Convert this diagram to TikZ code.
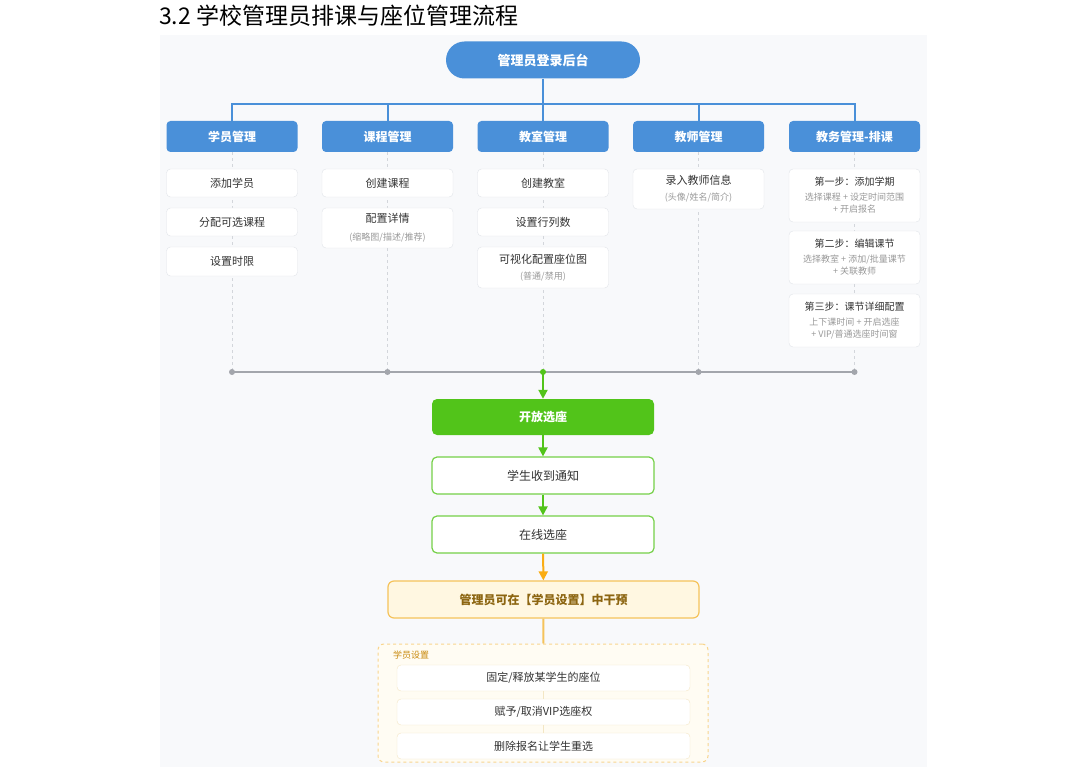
\documentclass[tikz,border=0pt]{standalone}
\usepackage{fontspec}
\setmainfont{Noto Sans CJK SC}
\usetikzlibrary{arrows.meta,backgrounds}

\definecolor{hdblue}{HTML}{4A90D9}
\definecolor{okgreen}{HTML}{52C41A}
\definecolor{warnorg}{HTML}{FAAD14}
\definecolor{warnfill}{HTML}{FFF7E1}
\definecolor{warnline}{HTML}{F5C35A}
\definecolor{warntext}{HTML}{8C6511}
\definecolor{grplabel}{HTML}{C98A0E}
\definecolor{grpline}{HTML}{F8D58E}
\definecolor{setline}{HTML}{F3E6C4}
\definecolor{panelbg}{HTML}{F8F9FB}
\definecolor{itemline}{HTML}{E1E4E9}
\definecolor{txtdark}{HTML}{333333}
\definecolor{txtsub}{HTML}{999999}
\definecolor{busgray}{HTML}{A3A6AC}
\definecolor{dashgray}{HTML}{D3D6DB}

\newcommand{\subline}[1]{{\fontsize{9}{12}\selectfont\color{txtsub}#1}}
\newcommand{\steptitle}[1]{{\fontsize{10}{13}\selectfont #1}}

\begin{document}
\begin{tikzpicture}[x=1pt,y=-1pt,
    every node/.style={font=\fontsize{11}{16}\selectfont, text=txtdark, inner sep=0pt},
    login/.style={fill=hdblue, rounded corners=18.5pt, minimum width=194pt,
      minimum height=37pt, text=white, font=\fontsize{13}{15}\selectfont\bfseries},
    cat/.style={fill=hdblue, rounded corners=4pt, minimum width=131pt,
      minimum height=31pt, text=white, font=\fontsize{12}{14}\selectfont\bfseries},
    item/.style={draw=itemline, fill=white, rounded corners=4pt,
      minimum width=131pt, minimum height=28pt, align=center},
    openbox/.style={fill=okgreen, rounded corners=5pt, minimum width=222pt,
      minimum height=36pt, text=white, font=\fontsize{12}{14}\selectfont\bfseries},
    greenbox/.style={draw=okgreen!80!white, line width=1.2pt, fill=white,
      rounded corners=5pt, minimum width=222pt, minimum height=37pt,
      font=\fontsize{12}{14}\selectfont},
    warnbox/.style={draw=warnline, line width=1.2pt, fill=warnfill,
      rounded corners=6pt, minimum width=311pt, minimum height=37pt,
      text=warntext, font=\fontsize{12}{14}\selectfont\bfseries},
    grpbox/.style={draw=grpline, dashed, line width=1pt, fill=white!60!warnfill,
      rounded corners=6pt, minimum width=330pt, minimum height=118pt},
    setitem/.style={draw=setline, fill=white, rounded corners=4pt,
      minimum width=293pt, minimum height=26pt, font=\fontsize{11}{14}\selectfont},
    busblue/.style={draw=hdblue, line width=2pt},
    busline/.style={draw=busgray, line width=2pt},
    dashline/.style={draw=dashgray, dashed, line width=0.8pt},
    flowarr/.style={draw=okgreen, line width=2pt, -{Triangle[length=9pt,width=9pt]}},
    warnarr/.style={draw=warnorg, line width=2pt, -{Triangle[length=9pt,width=9pt]}}
    ]

    \useasboundingbox (0,0) rectangle (1088,770);
    \begin{scope}[on background layer]
      \fill[panelbg] (160,35) rectangle (927,767);
    \end{scope}

    \node[anchor=west, font=\fontsize{23}{26}\selectfont, text=black] (title) at (159,16)
      {3.2 学校管理员排课与座位管理流程};

    \node[login] (login) at (543,60) {管理员登录后台};
    \coordinate (bus) at (543,104);

    \foreach \n/\x/\t in {xy/232/学员管理, kc/387.5/课程管理, js/543/教室管理,
        ls/698.5/教师管理, jw/854.5/教务管理-排课}
      \node[cat] (\n) at (\x,136.5) {\t};

    \draw[busblue] (login) -- (bus);
    \foreach \n in {xy,kc,js,ls,jw}
      \draw[busblue] (\n) |- (bus);

    \node[item] (xy1) at (232,183) {添加学员};
    \node[item] (xy2) at (232,222) {分配可选课程};
    \node[item, minimum height=29pt] (xy3) at (232,261.5) {设置时限};

    \node[item] (kc1) at (387.5,183) {创建课程};
    \node[item, minimum height=40pt] (kc2) at (387.5,228)
      {配置详情\\[2pt]\subline{(缩略图/描述/推荐)}};

    \node[item] (js1) at (543,183) {创建教室};
    \node[item] (js2) at (543,222) {设置行列数};
    \node[item, minimum height=41pt] (js3) at (543,267.5)
      {可视化配置座位图\\\subline{(普通/禁用)}};

    \node[item, minimum height=40pt] (ls1) at (698.5,189)
      {录入教师信息\\\subline{(头像/姓名/简介)}};

    \node[item, minimum height=53pt] (jw1) at (854.5,195.5)
      {\steptitle{第一步：添加学期}\\[-1pt]\subline{选择课程 + 设定时间范围}\\[-4pt]\subline{+ 开启报名}};
    \node[item, minimum height=53pt] (jw2) at (854.5,257.5)
      {\steptitle{第二步：编辑课节}\\[-1pt]\subline{选择教室 + 添加/批量课节}\\[-4pt]\subline{+ 关联教师}};
    \node[item, minimum height=53pt] (jw3) at (854.5,320.5)
      {\steptitle{第三步：课节详细配置}\\[-1pt]\subline{上下课时间 + 开启选座}\\[-4pt]\subline{+ VIP/普通选座时间窗}};

    \foreach \n/\x in {d1/232, d2/387.5, d3/543, d4/698.5, d5/854.5}
      \coordinate (\n) at (\x,372);
    \begin{scope}[on background layer]
      \foreach \n/\d in {xy/d1, kc/d2, js/d3, ls/d4, jw/d5}
        \draw[dashline] (\n) -- (\d);
    \end{scope}
    \draw[busline] (d1) -- (d5);
    \foreach \n in {d1,d2,d4,d5}
      \fill[busgray] (\n) circle (3pt);
    \fill[okgreen] (d3) circle (3pt);

    \node[openbox] (open) at (543,417) {开放选座};
    \node[greenbox] (notify) at (543,475.5) {学生收到通知};
    \node[greenbox] (online) at (543,534.5) {在线选座};
    \node[warnbox] (admin) at (543.5,599.5) {管理员可在【学员设置】中干预};

    \draw[flowarr] (d3) -- (open);
    \draw[flowarr] (open) -- (notify);
    \draw[flowarr] (notify) -- (online);
    \draw[warnarr] (online) -- (admin);

    \node[grpbox] (grp) at (543,703) {};
    \draw[draw=warnline, line width=2pt] (admin) -- (grp);
    \node[anchor=west, font=\fontsize{9}{11}\selectfont, text=grplabel] (grplbl) at (393,655) {学员设置};
    \node[setitem] (set1) at (543.5,678) {固定/释放某学生的座位};
    \node[setitem] (set2) at (543.5,712) {赋予/取消VIP选座权};
    \node[setitem] (set3) at (543.5,746) {删除报名让学生重选};
    \draw[draw=setline, line width=1pt] (set1) -- (set2);
    \draw[draw=setline, line width=1pt] (set2) -- (set3);

\end{tikzpicture}
\end{document}
